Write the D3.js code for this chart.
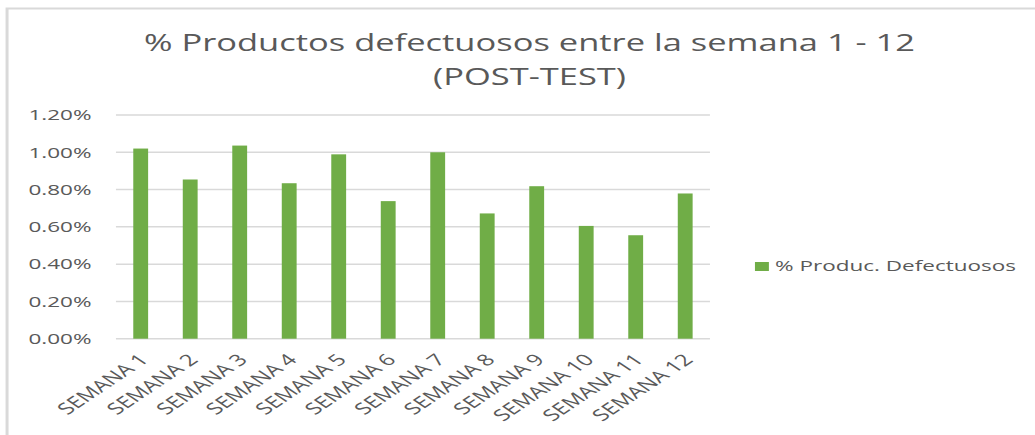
<!DOCTYPE html>
<meta charset="utf-8">
<style>
body { margin: 0; background: #fff; }
text { font-family: "Open Sans", sans-serif; fill: #595959; }
</style>
<svg id="chart"></svg>
<script src="https://d3js.org/d3.v7.min.js"></script>
<script>

// data
var semanas = ["SEMANA 1", "SEMANA 2", "SEMANA 3", "SEMANA 4", "SEMANA 5", "SEMANA 6",
               "SEMANA 7", "SEMANA 8", "SEMANA 9", "SEMANA 10", "SEMANA 11", "SEMANA 12"];
var defectuosos = [1.02, 0.854, 1.036, 0.834, 0.989, 0.738, 1.00, 0.672, 0.818, 0.605, 0.555, 0.779];
var yTicks = [0, 0.2, 0.4, 0.6, 0.8, 1.0, 1.2];
var serieNombre = "% Produc. Defectuosos";
var titulo = ["% Productos defectuosos entre la semana 1 - 12", "(POST-TEST)"];

// the original picture is stretched sideways, so draw in a narrower box and stretch it
var outW = 1035, outH = 435, stretch = 1.5;
var W = outW / stretch, H = outH;

var svg = d3.select("#chart")
    .attr("width", outW)
    .attr("height", outH)
    .attr("viewBox", "0 0 " + W + " " + H)
    .attr("preserveAspectRatio", "none");

// frame
svg.append("path")
    .attr("d", "M4.7," + H + "V8.5H" + W)
    .attr("fill", "none")
    .attr("stroke", "#d9d9d9")
    .attr("stroke-width", 2);

var x = d3.scaleBand()
    .domain(semanas)
    .range([77.3, 473.3])
    .paddingInner(0.7)
    .paddingOuter(0.35);

var y = d3.scaleLinear()
    .domain([0, 1.2])
    .range([338.7, 115]);

// gridlines
svg.append("g")
    .selectAll("line")
    .data(yTicks)
    .enter()
    .append("line")
    .attr("x1", 77.3)
    .attr("x2", 473.3)
    .attr("y1", function(d) { return y(d); })
    .attr("y2", function(d) { return y(d); })
    .attr("stroke", "#d9d9d9")
    .attr("stroke-width", 1.5);

// y axis labels
var yAxis = d3.axisLeft(y)
    .tickValues(yTicks)
    .tickSize(0)
    .tickPadding(0)
    .tickFormat(function(d) { return d3.format(".2f")(d) + "%"; });

var gy = svg.append("g")
    .attr("transform", "translate(61,0)")
    .call(yAxis);
gy.select(".domain").remove();
gy.selectAll("text")
    .style("font-size", "15px")
    .attr("fill", "#595959");

// bars
svg.append("g")
    .selectAll("rect")
    .data(defectuosos)
    .enter()
    .append("rect")
    .attr("x", function(d, i) { return x(semanas[i]); })
    .attr("width", x.bandwidth())
    .attr("y", function(d) { return y(d); })
    .attr("height", function(d) { return y(0) - y(d); })
    .attr("fill", "#70ad47");

// x labels
var xAxis = d3.axisBottom(x).tickSize(0).tickPadding(0);
var gx = svg.append("g")
    .attr("transform", "translate(0," + y(0) + ")")
    .call(xAxis);
gx.select(".domain").remove();
gx.selectAll("text")
    .style("font-size", "16px")
    .attr("fill", "#595959")
    .attr("text-anchor", "end")
    .attr("dy", null)
    .attr("y", 0)
    .attr("transform", "translate(6,22) rotate(-45)");

// title
svg.append("text")
    .attr("x", 353)
    .attr("y", 51)
    .attr("text-anchor", "middle")
    .style("font-size", "23px")
    .text(titulo[0]);
svg.append("text")
    .attr("x", 353)
    .attr("y", 85)
    .attr("text-anchor", "middle")
    .style("font-size", "23px")
    .text(titulo[1]);

// legend
var leg = svg.append("g").attr("transform", "translate(503.3,262)");
leg.append("rect")
    .attr("width", 9.3)
    .attr("height", 9)
    .attr("fill", "#70ad47");
leg.append("text")
    .attr("x", 13.4)
    .attr("y", 8.5)
    .style("font-size", "15px")
    .text(serieNombre);

</script>
